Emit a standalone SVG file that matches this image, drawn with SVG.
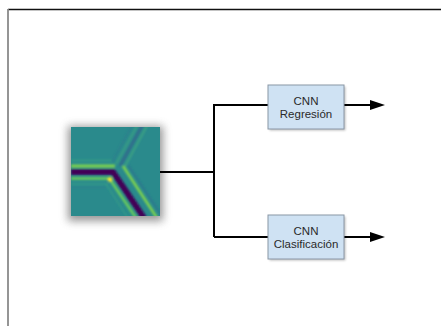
<svg xmlns="http://www.w3.org/2000/svg" width="441" height="326" viewBox="0 0 441 326">
  <style>
    .wire { fill: none; stroke: #000; stroke-width: 2; }
    .box { fill: #cfe2f3; stroke: #8a97a6; stroke-width: 1; }
    .lbl { font-family: "Liberation Sans", Arial, sans-serif; font-size: 11.5px; fill: #2a2a2a; text-anchor: middle; }
  </style>
  <defs>
    <marker id="arrow" markerWidth="16" markerHeight="12" refX="0" refY="6" orient="auto" markerUnits="userSpaceOnUse">
      <path d="M0,1 L15,6 L0,11 Z" fill="#000"/>
    </marker>
    <filter id="softShadow" x="-30%" y="-30%" width="160%" height="160%">
      <feGaussianBlur stdDeviation="4"/>
    </filter>
    <filter id="boxShadow" x="-20%" y="-20%" width="140%" height="160%">
      <feGaussianBlur stdDeviation="1.2"/>
    </filter>
    <filter id="smear" x="-10%" y="-10%" width="120%" height="120%">
      <feGaussianBlur stdDeviation="0.9"/>
    </filter>
    <clipPath id="mapClip">
      <rect x="71" y="127" width="89" height="89"/>
    </clipPath>
  </defs>

  <!-- page frame -->
  <line x1="8" y1="9.5" x2="441" y2="9.5" stroke="#111" stroke-width="1.4"/>
  <line x1="8" y1="9" x2="8" y2="326" stroke="#8a8a8a" stroke-width="1.8"/>

  <!-- input feature map -->
  <g id="feature-map">
    <rect x="68" y="126" width="95" height="95" fill="#6a6a6a" opacity="0.7" filter="url(#softShadow)"/>
    <g clip-path="url(#mapClip)">
      <rect x="71" y="127" width="89" height="89" fill="#2a8a8c"/>
      <g filter="url(#smear)" fill="none" stroke-linecap="butt">
        <!-- faint upper arm -->
        <line x1="120" y1="166" x2="143" y2="124" stroke="#35618c" stroke-width="3" opacity="0.7"/>
        <line x1="124" y1="168" x2="148" y2="124" stroke="#4fb87a" stroke-width="1.6" opacity="0.6"/>
        <line x1="116" y1="164" x2="138" y2="124" stroke="#4fb87a" stroke-width="1.6" opacity="0.5"/>
        <line x1="112" y1="162" x2="133" y2="124" stroke="#2f6f8d" stroke-width="1.5" opacity="0.5"/>
        <!-- faint horizontal ripples -->
        <line x1="71" y1="160.5" x2="112" y2="160.5" stroke="#3aa384" stroke-width="1.5" opacity="0.8"/>
        <line x1="71" y1="184" x2="108" y2="184" stroke="#3aa384" stroke-width="1.5" opacity="0.7"/>
        <line x1="71" y1="187.5" x2="106" y2="187.5" stroke="#2f6f8d" stroke-width="1.2" opacity="0.5"/>
        <!-- bright side bands -->
        <line x1="71" y1="166" x2="115" y2="166" stroke="#7fd34e" stroke-width="2.8"/>
        <line x1="71" y1="178.5" x2="111" y2="178.5" stroke="#6cce5a" stroke-width="2.6"/>
        <line x1="123" y1="166" x2="157" y2="218" stroke="#7fd34e" stroke-width="2.6"/>
        <line x1="111" y1="181" x2="136" y2="218" stroke="#6cce5a" stroke-width="2.4"/>
        <!-- dark ridge -->
        <path d="M71,172 L113,172 L144,218" stroke="#3f0f5f" stroke-width="6" stroke-linejoin="miter"/>
        <path d="M71,172 L113,172 L144,218" stroke="#440154" stroke-width="3.5" stroke-linejoin="miter"/>
        <!-- outer faint stripes of the lower arm -->
        <line x1="128" y1="165" x2="162" y2="216" stroke="#31688e" stroke-width="1.6" opacity="0.6"/>
        <line x1="106" y1="184" x2="128" y2="218" stroke="#3aa384" stroke-width="1.4" opacity="0.6"/>
        <!-- hot spot -->
        <circle cx="110" cy="179.5" r="2.3" fill="#fde725" stroke="none"/>
      </g>
    </g>
  </g>

  <!-- connectors -->
  <g id="connectors">
    <path class="wire" d="M160,172 L214,172"/>
    <path class="wire" d="M214,237 L214,105 L268,105"/>
    <path class="wire" d="M214,237 L268,237"/>
    <line class="wire" x1="344" y1="105" x2="370" y2="105" marker-end="url(#arrow)"/>
    <line class="wire" x1="344" y1="237" x2="370" y2="237" marker-end="url(#arrow)"/>
  </g>

  <!-- regression head -->
  <g id="cnn-regresion">
    <rect x="269.5" y="86.5" width="76" height="44" fill="#000" opacity="0.25" filter="url(#boxShadow)"/>
    <rect class="box" x="268" y="85" width="76" height="44"/>
    <text class="lbl" x="306" y="104.5">CNN</text>
    <text class="lbl" x="306" y="117.5">Regresión</text>
  </g>

  <!-- classification head -->
  <g id="cnn-clasificacion">
    <rect x="269.5" y="216.5" width="76" height="44" fill="#000" opacity="0.25" filter="url(#boxShadow)"/>
    <rect class="box" x="268" y="215" width="76" height="44"/>
    <text class="lbl" x="306" y="234.5">CNN</text>
    <text class="lbl" x="306" y="247.5">Clasificación</text>
  </g>
</svg>
